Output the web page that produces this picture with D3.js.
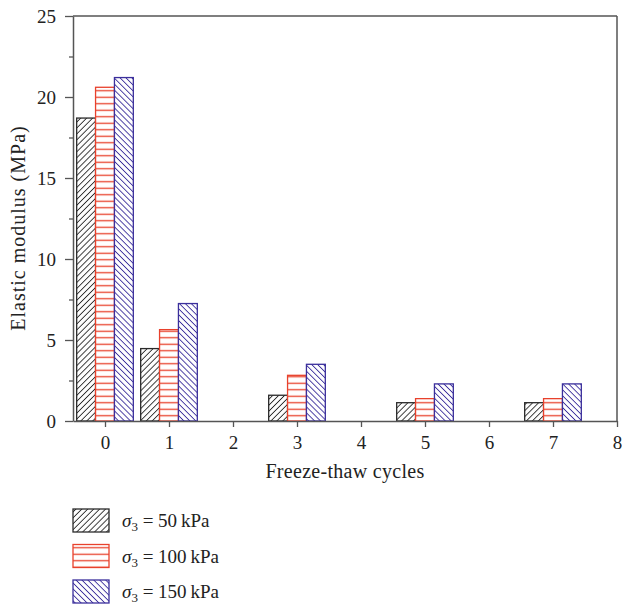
<!DOCTYPE html>
<html>
<head>
<meta charset="utf-8">
<script src="https://cdn.jsdelivr.net/npm/d3@7"></script>
<style>
  body { margin: 0; background: #fff; }
  text { font-family: "Liberation Serif", "DejaVu Serif", serif; fill: #222; }
</style>
</head>
<body>
<div id="chart"></div>
<script>
const cycles = [0, 1, 3, 5, 7];
const seriesNames = ['50', '100', '150'];
const s50 = [18.7, 4.47, 1.59, 1.13, 1.13];
const s100 = [20.6, 5.64, 2.82, 1.38, 1.38];
const s150 = [21.2, 7.25, 3.5, 2.29, 2.29];
const yTicks = [0, 5, 10, 15, 20, 25];
const xTicks = [0, 1, 2, 3, 4, 5, 6, 7, 8];

const colors = ['#2a2a2a', '#e8412c', '#3b2f9c'];
const patterns = ['hatch-fwd', 'hatch-horiz', 'hatch-back'];
const allSeries = [s50, s100, s150];

const W = 622, H = 608;
const margin = { top: 16, left: 73, right: 5, bottom: 187 };
const width = W - margin.left - margin.right;
const height = H - margin.top - margin.bottom;

const svg = d3.select('#chart').append('svg')
  .attr('width', W).attr('height', H);

// hatch patterns
const defs = svg.append('defs');
function diag(id, angle, color) {
  const s = 4.2;
  const p = defs.append('pattern')
    .attr('id', id)
    .attr('patternUnits', 'userSpaceOnUse')
    .attr('width', s).attr('height', s)
    .attr('patternTransform', `rotate(${angle})`);
  p.append('rect').attr('width', s).attr('height', s).attr('fill', '#fff');
  p.append('line')
    .attr('x1', -1).attr('x2', s + 1).attr('y1', s / 2).attr('y2', s / 2)
    .attr('stroke', color).attr('stroke-width', 0.9);
}
diag('hatch-fwd', -45, colors[0]);
diag('hatch-back', 45, colors[2]);
const ph = defs.append('pattern')
  .attr('id', 'hatch-horiz')
  .attr('patternUnits', 'userSpaceOnUse')
  .attr('width', 10).attr('height', 6.5);
ph.append('rect').attr('width', 10).attr('height', 6.5).attr('fill', '#fff');
ph.append('line')
  .attr('x1', 0).attr('x2', 10).attr('y1', 3.25).attr('y2', 3.25)
  .attr('stroke', colors[1]).attr('stroke-width', 1.3);

const g = svg.append('g')
  .attr('transform', `translate(${margin.left},${margin.top})`);

const x = d3.scaleLinear().domain([-0.5, 8]).range([0, width]);
const y = d3.scaleLinear().domain([0, 25]).range([height, 0]);

const barW = x(0.295) - x(0);

// bars
allSeries.forEach((vals, si) => {
  g.selectAll('.bar-' + si)
    .data(cycles.map((c, i) => ({ c, v: vals[i] })))
    .enter().append('rect')
    .attr('x', d => x(d.c) + (si - 1.5) * barW)
    .attr('width', barW)
    .attr('y', d => y(d.v))
    .attr('height', d => y(0) - y(d.v))
    .attr('fill', `url(#${patterns[si]})`)
    .attr('stroke', colors[si])
    .attr('stroke-width', 1.3);
});

// frame
const axisColor = '#555';
g.append('line').attr('x1', 0).attr('x2', width).attr('y1', 0).attr('y2', 0)
  .attr('stroke', axisColor).attr('stroke-width', 1.5);
g.append('line').attr('x1', width).attr('x2', width).attr('y1', 0).attr('y2', height)
  .attr('stroke', axisColor).attr('stroke-width', 1.5);

// y axis
const yAxis = g.append('g')
  .call(d3.axisLeft(y).tickValues(yTicks).tickSize(8).tickPadding(9).tickSizeOuter(0));
g.append('g')
  .call(d3.axisLeft(y).tickValues(d3.range(2.5, 25, 5)).tickSize(4).tickFormat('').tickSizeOuter(0))
  .select('.domain').remove();

// x axis
const xAxis = g.append('g')
  .attr('transform', `translate(0,${height})`)
  .call(d3.axisBottom(x).tickValues(xTicks).tickSize(6).tickPadding(9).tickSizeOuter(0));

[yAxis, xAxis].forEach(a => {
  a.select('.domain').attr('stroke', axisColor).attr('stroke-width', 1.5);
  a.selectAll('.tick text').style('font-size', '19px')
    .style('font-family', '"Liberation Serif", serif').attr('fill', '#222');
});
g.selectAll('.tick line').attr('stroke', axisColor).attr('stroke-width', 1.3);

// axis titles
svg.append('text')
  .attr('transform', `translate(25,228) rotate(-90)`)
  .attr('text-anchor', 'middle')
  .style('font-size', '20px')
  .style('letter-spacing', '1px')
  .text('Elastic modulus (MPa)');

svg.append('text')
  .attr('x', margin.left + width / 2)
  .attr('y', 478)
  .attr('text-anchor', 'middle')
  .style('font-size', '20px')
  .style('letter-spacing', '0.3px')
  .text('Freeze-thaw cycles');

// legend
const legend = svg.append('g').attr('transform', 'translate(73,509)');
seriesNames.forEach((name, i) => {
  const row = legend.append('g').attr('transform', `translate(0,${i * 35.5})`);
  row.append('rect')
    .attr('width', 36).attr('height', 23)
    .attr('fill', `url(#${patterns[i]})`)
    .attr('stroke', colors[i]).attr('stroke-width', 1.3);
  const t = row.append('text')
    .attr('x', 49).attr('y', 18)
    .style('font-size', '19px');
  t.append('tspan').style('font-style', 'italic').text('σ');
  t.append('tspan').attr('dy', 4).style('font-size', '13px').text('3');
  t.append('tspan').attr('dy', -4).text(` = ${name}\u2009kPa`);
});
</script>
</body>
</html>
